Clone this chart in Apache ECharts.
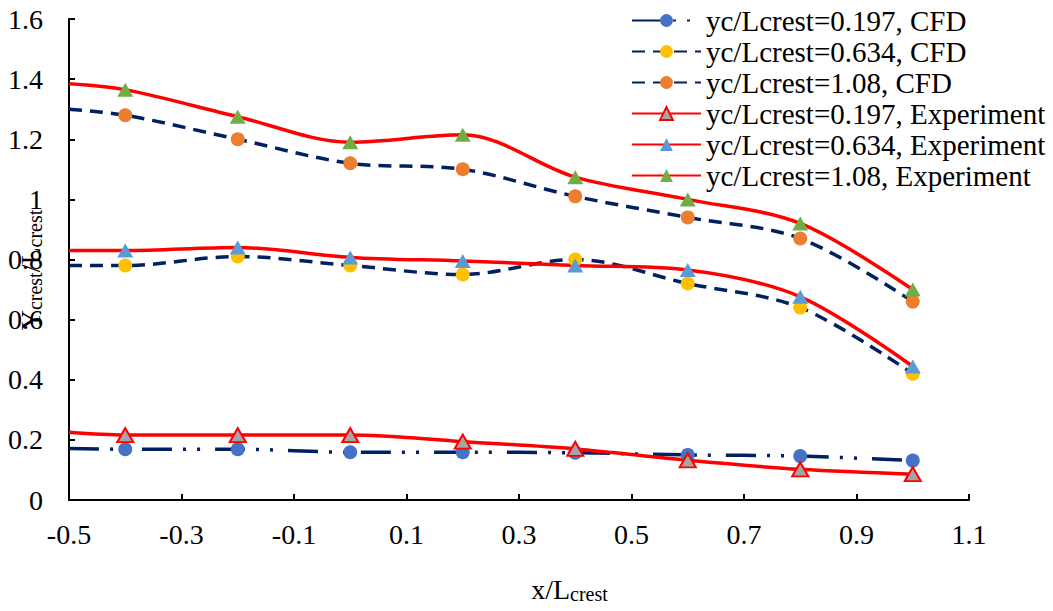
<!DOCTYPE html>
<html>
<head>
<meta charset="utf-8">
<script src="https://cdn.jsdelivr.net/npm/echarts@6/dist/echarts.min.js"></script>
<style>
  html, body { margin: 0; padding: 0; background: #ffffff; }
  #chart { width: 1053px; height: 611px; }
</style>
</head>
<body>
<div id="chart"></div>
<script>
// Streamwise positions (x/Lcrest); the first point only anchors the curve at the left edge
const xPositions = [-0.5, -0.4, -0.2, 0, 0.2, 0.4, 0.6, 0.8, 1.0];
const xTicks = [-0.5, -0.3, -0.1, 0.1, 0.3, 0.5, 0.7, 0.9, 1.1];

// CFD profiles
const cfd0197 = [0.171, 0.169, 0.169, 0.159, 0.159, 0.157, 0.150, 0.146, 0.131];
const cfd0634 = [0.78, 0.78, 0.81, 0.78, 0.75, 0.80, 0.72, 0.64, 0.42];
const cfd108  = [1.30, 1.28, 1.20, 1.12, 1.10, 1.01, 0.94, 0.87, 0.66];

// Experimental profiles
const exp0197 = [0.225, 0.216, 0.216, 0.216, 0.194, 0.170, 0.132, 0.102, 0.086];
const exp0634 = [0.83, 0.83, 0.84, 0.807, 0.795, 0.78, 0.765, 0.676, 0.444];
const exp108  = [1.385, 1.365, 1.275, 1.19, 1.215, 1.074, 1.00, 0.92, 0.70];

const seriesNames = [
  'yc/Lcrest=0.197, CFD',
  'yc/Lcrest=0.634, CFD',
  'yc/Lcrest=1.08, CFD',
  'yc/Lcrest=0.197, Experiment',
  'yc/Lcrest=0.634, Experiment',
  'yc/Lcrest=1.08, Experiment'
];

const FONT = "'Liberation Serif', 'Times New Roman', serif";
const NAVY = '#002060';
const RED = '#FF0000';

function toPoints(ys) {
  return xPositions.map((x, i) => i === 0 ? { value: [x, ys[i]], symbol: 'none' } : [x, ys[i]]);
}

function cfdSeries(name, ys, fill, dash) {
  return {
    name, type: 'line', data: toPoints(ys), smooth: 0.33,
    symbol: 'circle', symbolSize: 14,
    itemStyle: { color: fill },
    lineStyle: { color: NAVY, width: 3.5, type: dash },
    emphasis: { disabled: true }
  };
}

function expSeries(name, ys, fill, border) {
  return {
    name, type: 'line', data: toPoints(ys), smooth: 0.33,
    symbol: 'triangle', symbolSize: [16, 14],
    itemStyle: border ? { color: fill, borderColor: RED, borderWidth: 2 } : { color: fill },
    lineStyle: { color: RED, width: 3.5 },
    emphasis: { disabled: true }
  };
}

const chart = echarts.init(document.getElementById('chart'), null, { renderer: 'svg' });

chart.setOption({
  animation: false,
  backgroundColor: '#ffffff',
  textStyle: { fontFamily: FONT },
  grid: { left: 69, right: 84, top: 19, bottom: 111, containLabel: false, outerBoundsMode: 'none' },
  legend: {
    orient: 'vertical',
    left: 631, top: 5, padding: 0,
    itemWidth: 69, itemHeight: 16, itemGap: 0,
    selectedMode: false,
    textStyle: { fontFamily: FONT, fontSize: 29, color: '#000', lineHeight: 31 },
    data: seriesNames.map((n, i) => i === 3
      ? { name: n, itemStyle: { borderColor: RED, borderWidth: 2 } }
      : { name: n })
  },
  xAxis: {
    type: 'value',
    min: -0.5, max: 1.1,
    name: '{m|x/L}{s|crest}',
    nameLocation: 'middle',
    nameGap: 74,
    nameMoveOverlap: false,
    nameTextStyle: {
      padding: [0, 0, 0, 101],
      rich: {
        m: { fontFamily: FONT, fontSize: 28, color: '#000', lineHeight: 30 },
        s: { fontFamily: FONT, fontSize: 20, color: '#000', lineHeight: 12, verticalAlign: 'bottom' }
      }
    },
    splitLine: { show: false },
    axisLine: { onZero: false, lineStyle: { color: '#000', width: 2 } },
    axisTick: { inside: true, length: 6, lineStyle: { color: '#000', width: 2 }, customValues: xTicks },
    axisLabel: { fontFamily: FONT, fontSize: 28, color: '#000', margin: 20, customValues: xTicks }
  },
  yAxis: {
    type: 'value',
    min: 0, max: 1.6, interval: 0.2,
    name: '{m|Y}{s|crest}{m|/L}{s|crest}',
    nameLocation: 'middle',
    nameGap: 24,
    nameMoveOverlap: false,
    nameTextStyle: {
      padding: [0, 21, 0, 0],
      rich: {
        m: { fontFamily: FONT, fontSize: 28, color: '#000', lineHeight: 30 },
        s: { fontFamily: FONT, fontSize: 20, color: '#000', lineHeight: 12, verticalAlign: 'bottom' }
      }
    },
    splitLine: { show: false },
    axisLine: { show: true, onZero: false, lineStyle: { color: '#000', width: 2 } },
    axisTick: { show: true, inside: true, length: 6, lineStyle: { color: '#000', width: 2 } },
    axisLabel: { fontFamily: FONT, fontSize: 28, color: '#000', margin: 26 }
  },
  series: [
    cfdSeries(seriesNames[0], cfd0197, '#4472C4', [30, 11, 3, 11, 3, 15]),
    cfdSeries(seriesNames[1], cfd0634, '#FFC000', [13, 8]),
    cfdSeries(seriesNames[2], cfd108, '#ED7D31', [13, 8]),
    expSeries(seriesNames[3], exp0197, '#A5A5A5', true),
    expSeries(seriesNames[4], exp0634, '#5B9BD5', false),
    expSeries(seriesNames[5], exp108, '#70AD47', false)
  ]
});
</script>
</body>
</html>
